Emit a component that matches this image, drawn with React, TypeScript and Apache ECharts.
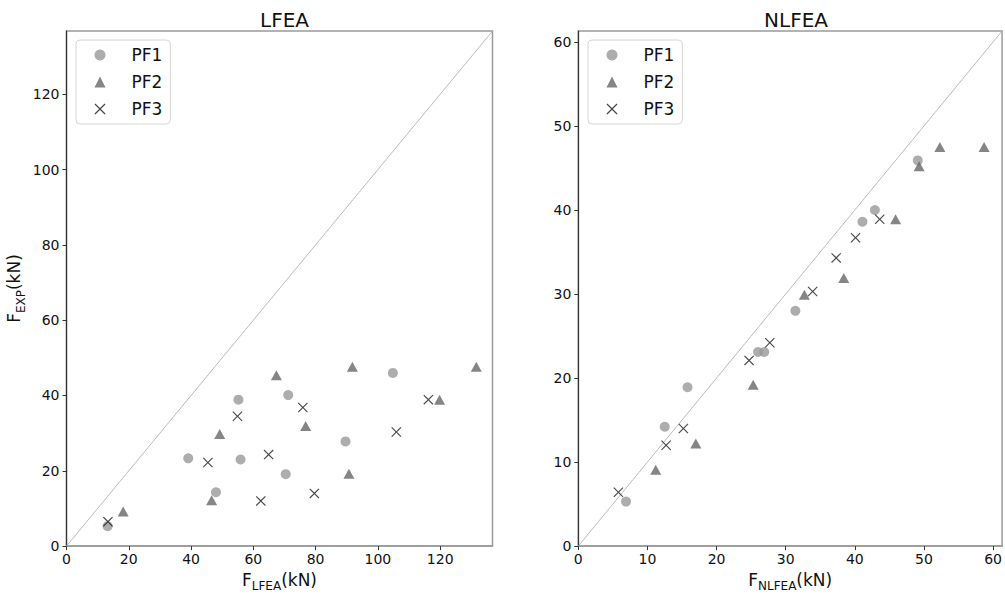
import React, { useEffect, useRef } from "react";
import * as echarts from "echarts";

// ---- data ----
const seriesNames = ["PF1", "PF2", "PF3"];

const lfeaPF1 = [[13.2, 5.3], [39.1, 23.3], [48.0, 14.3], [55.2, 38.9], [55.9, 23.0], [70.4, 19.1], [71.2, 40.1], [89.6, 27.8], [104.8, 46.0]];
const lfeaPF2 = [[18.2, 9.2], [46.6, 12.2], [49.2, 29.8], [67.4, 45.4], [76.8, 31.9], [90.7, 19.2], [91.8, 47.6], [119.8, 38.9], [131.6, 47.6]];
const lfeaPF3 = [[13.3, 6.5], [45.4, 22.2], [54.9, 34.5], [62.4, 12.0], [64.9, 24.3], [75.9, 36.8], [79.6, 14.0], [105.9, 30.3], [116.2, 38.9]];

const nlfeaPF1 = [[6.9, 5.3], [12.5, 14.2], [15.8, 18.9], [26.0, 23.1], [26.9, 23.1], [31.4, 28.0], [41.1, 38.6], [42.9, 40.0], [49.1, 45.9]];
const nlfeaPF2 = [[11.2, 9.1], [17.0, 12.2], [25.3, 19.2], [32.7, 29.9], [38.4, 31.9], [45.9, 38.9], [49.3, 45.2], [52.3, 47.5], [58.7, 47.5]];
const nlfeaPF3 = [[5.8, 6.4], [12.7, 12.0], [15.2, 14.0], [24.7, 22.1], [27.7, 24.2], [33.9, 30.3], [37.3, 34.3], [40.1, 36.7], [43.6, 38.9]];

const lfeaMax = 136.8;
const nlfeaMax = 61.3;
const lfeaTicks = [0, 20, 40, 60, 80, 100, 120];
const nlfeaTicks = [0, 10, 20, 30, 40, 50, 60];

const X_PATH =
  "path://M0,0.8L0.8,0L5,4.2L9.2,0L10,0.8L5.8,5L10,9.2L9.2,10L5,5.8L0.8,10L0,9.2L4.2,5Z";

const FONT = "DejaVu Sans";

const richName = {
  m: { fontSize: 17, fontFamily: FONT, color: "#111", lineHeight: 21, verticalAlign: "top" },
  s: { fontSize: 12, fontFamily: FONT, color: "#111", lineHeight: 12, verticalAlign: "bottom" },
};

export default function App() {
  const ref = useRef<HTMLDivElement>(null);

  useEffect(() => {
    if (!ref.current) return;
    const chart = echarts.init(ref.current, undefined, { renderer: "svg" });

    const grids = [
      { left: 66.5, top: 31, width: 426, height: 518 },
      { left: 578.3, top: 31, width: 426, height: 518 },
    ];

    const makeX = (idx: number, max: number, ticks: number[], sub: string) => ({
      type: "value",
      gridIndex: idx,
      min: 0,
      max,
      splitLine: { show: false },
      axisLine: { show: true, lineStyle: { color: "#999", width: 1.5 } },
      axisTick: { show: true, length: 4, lineStyle: { color: "#333" }, customValues: ticks },
      axisLabel: { fontSize: 14, color: "#111", fontFamily: FONT, margin: 6, customValues: ticks },
      name: `{m|F}{s|${sub}}{m|(kN)}`,
      nameLocation: "middle",
      nameGap: 22,
      nameTextStyle: { rich: richName },
    });

    const makeY = (idx: number, max: number, ticks: number[], withName: boolean) => ({
      type: "value",
      gridIndex: idx,
      min: 0,
      max,
      splitLine: { show: false },
      axisLine: { show: true, lineStyle: { color: "#333", width: 1.2 } },
      axisTick: { show: true, length: 4, lineStyle: { color: "#333" }, customValues: ticks },
      axisLabel: { fontSize: 14, color: "#111", fontFamily: FONT, margin: 7, customValues: ticks },
      name: withName ? `{m|F}{s|EXP}{m|(kN)}` : "",
      nameLocation: "middle",
      nameRotate: 90,
      nameGap: 40,
      nameTextStyle: { rich: richName },
    });

    const scatterSet = (idx: number, d1: number[][], d2: number[][], d3: number[][]) => [
      {
        name: "PF1",
        type: "scatter",
        xAxisIndex: idx,
        yAxisIndex: idx,
        data: d1,
        symbol: "circle",
        symbolSize: 10,
        itemStyle: { color: "#999999" },
        z: 3,
      },
      {
        name: "PF2",
        type: "scatter",
        xAxisIndex: idx,
        yAxisIndex: idx,
        data: d2,
        symbol: "triangle",
        symbolSize: [11, 10],
        itemStyle: { color: "#666666" },
        z: 3,
      },
      {
        name: "PF3",
        type: "scatter",
        xAxisIndex: idx,
        yAxisIndex: idx,
        data: d3,
        symbol: X_PATH,
        symbolSize: 10,
        itemStyle: { color: "#1a1a1a" },
        z: 4,
      },
    ];

    const identity = (idx: number, max: number) => ({
      name: "identity",
      type: "line",
      xAxisIndex: idx,
      yAxisIndex: idx,
      data: [
        [0, 0],
        [max, max],
      ],
      symbol: "none",
      silent: true,
      lineStyle: { color: "#aaaaaa", width: 0.8 },
      z: 1,
    });

    const legendBase = {
      data: seriesNames,
      orient: "vertical",
      top: 40,
      itemWidth: 11,
      itemHeight: 11,
      itemGap: 7,
      padding: [5, 8, 5, 18.5],
      backgroundColor: "#fff",
      borderColor: "#d6d6d6",
      borderWidth: 1,
      borderRadius: 4,
      textStyle: { fontSize: 17, fontFamily: FONT, color: "#111", lineHeight: 20, padding: [0, 0, 0, 21] },
      selectedMode: false,
    };

    chart.setOption({
      animation: false,
      backgroundColor: "#fff",
      title: [
        {
          text: "LFEA",
          left: 279.5,
          top: 5,
          textAlign: "center",
          textStyle: { fontSize: 20, fontWeight: "normal", fontFamily: FONT, color: "#111" },
        },
        {
          text: "NLFEA",
          left: 791,
          top: 5,
          textAlign: "center",
          textStyle: { fontSize: 20, fontWeight: "normal", fontFamily: FONT, color: "#111" },
        },
      ],
      legend: [
        { ...legendBase, left: 76 },
        { ...legendBase, left: 588 },
      ],
      grid: grids.map((g) => ({ ...g, show: true, borderColor: "#999", borderWidth: 1.5, backgroundColor: "#fff" })),
      xAxis: [makeX(0, lfeaMax, lfeaTicks, "LFEA"), makeX(1, nlfeaMax, nlfeaTicks, "NLFEA")],
      yAxis: [makeY(0, lfeaMax, lfeaTicks, true), makeY(1, nlfeaMax, nlfeaTicks, false)],
      series: [
        identity(0, lfeaMax),
        ...scatterSet(0, lfeaPF1, lfeaPF2, lfeaPF3),
        identity(1, nlfeaMax),
        ...scatterSet(1, nlfeaPF1, nlfeaPF2, nlfeaPF3),
      ],
    });

    return () => chart.dispose();
  }, []);

  return (
    <div
      ref={ref}
      style={{ position: "absolute", left: 0, top: 0, width: 1005, height: 597, background: "#fff" }}
    />
  );
}
